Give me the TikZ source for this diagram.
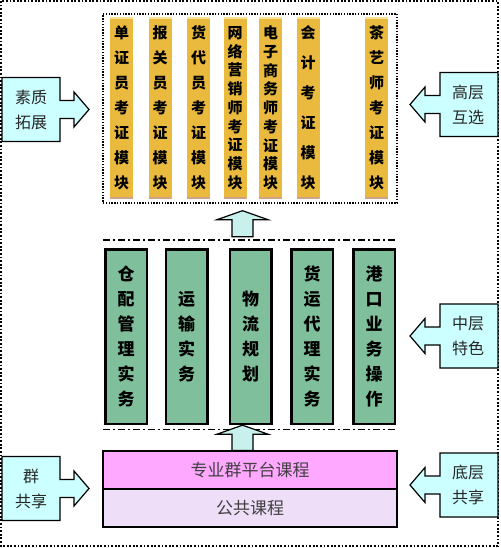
\documentclass[tikz,border=0pt]{standalone}
\usepackage{fontspec}
\setmainfont{Noto Sans CJK SC}
\usetikzlibrary{calc}

\definecolor{certYellow}{RGB}{234,186,62}
\definecolor{certEdge}{RGB}{208,162,138}
\definecolor{certTop}{RGB}{250,226,150}
\definecolor{coreGreen}{RGB}{127,191,155}
\definecolor{platPink}{RGB}{255,168,255}
\definecolor{pubLilac}{RGB}{238,222,248}
\definecolor{calloutCyan}{RGB}{204,255,255}
\definecolor{arrowCyan}{RGB}{200,240,236}

\tikzset{
  outerframe/.style={line width=1.8pt, dash pattern=on 1.8pt off 1.8pt},
  topframe/.style={draw, line width=1.4pt, dash pattern=on 1.4pt off 1.4pt,
    minimum width=294pt, minimum height=189pt, inner sep=0pt},
  midframe/.style={minimum width=294pt, minimum height=189pt, inner sep=0pt},
  midline/.style={line width=1.4pt, dash pattern=on 7pt off 3pt on 2pt off 3pt},
  certbar/.style={fill=certYellow, minimum width=23pt, minimum height=180pt,
    inner sep=0pt, align=center,
    path picture={
      \draw[certTop, line width=2pt] (path picture bounding box.north west) -- (path picture bounding box.north east);
      \draw[certEdge, line width=2.5pt] (path picture bounding box.south west) -- (path picture bounding box.south east);}},
  corebar/.style={draw, fill=coreGreen, line width=2.5pt, minimum width=41.5pt,
    minimum height=174.5pt, inner sep=0pt, align=center,
    font=\bfseries\fontsize{17}{25}\selectfont},
  layer/.style={draw, line width=1.2pt, minimum width=294pt, minimum height=38pt,
    inner sep=0pt, text=black!75, font=\fontsize{17}{20}\selectfont},
  callout/.style={draw, fill=calloutCyan, line width=1.2pt},
  callouttext/.style={align=center, text=black!85, font=\fontsize{16}{25}\selectfont},
  blockarrow/.style={draw, fill=arrowCyan, line width=1.2pt}
}

% seta larga de (#1) ate (#2)
\newcommand{\setaBloco}[2]{%
  \draw[blockarrow] let \p1=#1, \p2=#2 in
    (\x1-10.5pt,\y1) -- (\x1-10.5pt,\y2-9pt) -- (\x1-25.5pt,\y2-9pt) -- (\x2,\y2)
    -- (\x1+25.5pt,\y2-9pt) -- (\x1+10.5pt,\y2-9pt) -- (\x1+10.5pt,\y1) -- cycle;}

\begin{document}
\begin{tikzpicture}[x=1pt, y=-1pt]
    \useasboundingbox (0,0) rectangle (500,548);
    % Moldura externa
    \draw[outerframe] (1,1) rectangle (498,546);

    % Camada alta: modulos de certificacao
    \node[topframe] (topbox) at (250,108.5) {};
    \foreach \i/\x/\sk/\txt in {1/121.5/25/{单\\证\\员\\考\\证\\模\\块},
        2/160/25/{报\\关\\员\\考\\证\\模\\块},
        3/198.5/25/{货\\代\\员\\考\\证\\模\\块},
        4/235/18.75/{网\\络\\营\\销\\师\\考\\证\\模\\块},
        5/270.5/18.75/{电\\子\\商\\务\\师\\考\\证\\模\\块},
        6/308/30/{会\\计\\考\\证\\模\\块},
        7/376.5/25/{茶\\艺\\师\\考\\证\\模\\块}} {
        \node[certbar, font=\bfseries\fontsize{15}{\sk}\selectfont] (cert\i) at (\x,108) {\txt};
    }

    % Camada media: disciplinas centrais
    \node[midframe] (midbox) at (250,334.5) {};
    \draw[midline] (midbox.north west) -- (midbox.north east);
    \draw[midline] (midbox.south west) -- (midbox.south east);
    \foreach \i/\x/\txt in {1/126/{仓\\配\\管\\理\\实\\务},
        2/186.5/{运\\输\\实\\务},
        3/250.5/{物\\流\\规\\划},
        4/312/{货\\运\\代\\理\\实\\务},
        5/374/{港\\口\\业\\务\\操\\作}} {
        \node[corebar] (core\i) at (\x,336.5) {\txt};
    }

    % Camada base
    \node[layer, fill=platPink] (plat) at (250,470) {专业群平台课程};
    \node[layer, fill=pubLilac] (pub) at (250,508) {公共课程};

    % Setas entre camadas
    \setaBloco{($(midbox.north)+(-7.5,-3)$)}{($(topbox.south)+(-7.5,7)$)}
    \setaBloco{($(plat.north)+(-7.5,0)$)}{($(midbox.south)+(-7.5,-4)$)}

    % Chamadas laterais
    \foreach \nm/\y/\txt in {suzhi/109.5/{素质\\拓展}, qun/488.5/{群\\共享}} {
        \draw[callout] (2,\y-32) -- (60,\y-32) -- (60,\y-9) -- (74,\y-9) -- (74,\y-17.5)
            -- (89,\y) -- (74,\y+17.5) -- (74,\y+9) -- (60,\y+9) -- (60,\y+32) -- (2,\y+32) -- cycle;
        \node[callouttext] (\nm) at (31,\y) {\txt};
    }
    \foreach \nm/\y/\txt in {gaoceng/104.5/{高层\\互选}, zhongceng/336/{中层\\特色}, diceng/485/{底层\\共享}} {
        \draw[callout] (498,\y-32) -- (440,\y-32) -- (440,\y-9) -- (425,\y-9) -- (425,\y-17.5)
            -- (410,\y) -- (425,\y+17.5) -- (425,\y+9) -- (440,\y+9) -- (440,\y+32) -- (498,\y+32) -- cycle;
        \node[callouttext] (\nm) at (468,\y) {\txt};
    }
\end{tikzpicture}
\end{document}
